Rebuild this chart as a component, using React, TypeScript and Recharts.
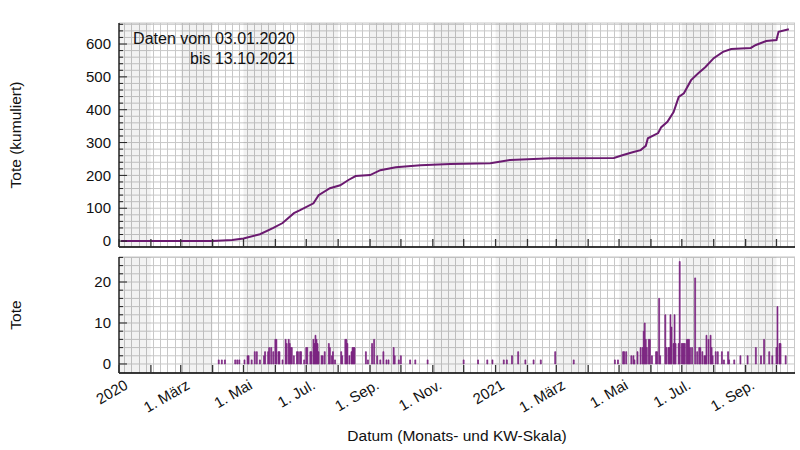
import {
  Bar,
  CartesianGrid,
  ComposedChart,
  Line,
  ReferenceArea,
  XAxis,
  YAxis,
} from "recharts";

const START = Date.UTC(2020, 0, 1);
const toDay = (s: string) => Math.round((Date.parse(s) - START) / 86400000);

// Monatsanfänge (Ticks) und Beschriftung
const monthStarts = [
  "2020-01-01", "2020-02-01", "2020-03-01", "2020-04-01", "2020-05-01", "2020-06-01",
  "2020-07-01", "2020-08-01", "2020-09-01", "2020-10-01", "2020-11-01", "2020-12-01",
  "2021-01-01", "2021-02-01", "2021-03-01", "2021-04-01", "2021-05-01", "2021-06-01",
  "2021-07-01", "2021-08-01", "2021-09-01", "2021-10-01", "2021-11-01",
];
const monthLabels = [
  "2020", "", "1. März", "", "1. Mai", "", "1. Jul.", "", "1. Sep.", "", "1. Nov.", "",
  "2021", "", "1. März", "", "1. Mai", "", "1. Jul.", "", "1. Sep.", "", "",
];

// kumulierte Tote
const cumDates = [
  "2020-01-03", "2020-04-01", "2020-04-20", "2020-05-01", "2020-05-17", "2020-05-30",
  "2020-06-08", "2020-06-19", "2020-06-25", "2020-07-08", "2020-07-13", "2020-07-24",
  "2020-08-03", "2020-08-11", "2020-08-18", "2020-09-01", "2020-09-11", "2020-09-26",
  "2020-10-20", "2020-11-18", "2020-12-27", "2021-01-15", "2021-02-24", "2021-04-26",
  "2021-05-05", "2021-05-15", "2021-05-22", "2021-05-27", "2021-05-29", "2021-06-08",
  "2021-06-11", "2021-06-17", "2021-06-23", "2021-06-28", "2021-07-03", "2021-07-10",
  "2021-07-17", "2021-07-24", "2021-08-01", "2021-08-10", "2021-08-18", "2021-09-06",
  "2021-09-11", "2021-09-21", "2021-10-01", "2021-10-03", "2021-10-13",
];
const cumValues = [
  0, 0, 3, 8, 21, 40,
  55, 85, 94, 115, 140, 161,
  170, 186, 198, 201, 216, 225,
  231, 235, 237, 247, 252, 253,
  262, 271, 277, 290, 313, 329,
  347, 363, 393, 439, 450, 490,
  511, 530, 557, 576, 585, 588,
  597, 609, 612, 637, 645,
];

// tägliche Tote 2020 (Tage ohne Meldung weggelassen)
const daily2020: [string, number][] = [
  ["2020-04-07", 1], ["2020-04-10", 1], ["2020-04-13", 1], ["2020-04-23", 1],
  ["2020-04-25", 1], ["2020-04-27", 1], ["2020-05-02", 1], ["2020-05-05", 2],
  ["2020-05-06", 2], ["2020-05-09", 1], ["2020-05-12", 3], ["2020-05-14", 3],
  ["2020-05-17", 1], ["2020-05-21", 2], ["2020-05-22", 3], ["2020-05-25", 3],
  ["2020-05-26", 4], ["2020-05-28", 4], ["2020-05-30", 3], ["2020-06-01", 6],
  ["2020-06-02", 6], ["2020-06-04", 3], ["2020-06-05", 3], ["2020-06-08", 1],
  ["2020-06-11", 6], ["2020-06-12", 5], ["2020-06-14", 6], ["2020-06-15", 5],
  ["2020-06-16", 4], ["2020-06-17", 4], ["2020-06-19", 2], ["2020-06-22", 3],
  ["2020-06-23", 3], ["2020-06-25", 3], ["2020-06-26", 3], ["2020-06-29", 1],
  ["2020-07-01", 4], ["2020-07-02", 4], ["2020-07-05", 3], ["2020-07-06", 3],
  ["2020-07-08", 6], ["2020-07-09", 5], ["2020-07-10", 7], ["2020-07-11", 6],
  ["2020-07-12", 5], ["2020-07-13", 3], ["2020-07-16", 2], ["2020-07-17", 2],
  ["2020-07-19", 3], ["2020-07-23", 5], ["2020-07-24", 4], ["2020-07-26", 2],
  ["2020-07-27", 3], ["2020-07-29", 1], ["2020-08-04", 3], ["2020-08-05", 2],
  ["2020-08-08", 6], ["2020-08-09", 6], ["2020-08-10", 5], ["2020-08-12", 2],
  ["2020-08-14", 3], ["2020-08-15", 4], ["2020-08-16", 4], ["2020-08-17", 4],
  ["2020-08-28", 3], ["2020-08-30", 1], ["2020-09-03", 5], ["2020-09-05", 6],
  ["2020-09-08", 2], ["2020-09-11", 1], ["2020-09-14", 3], ["2020-09-17", 1],
  ["2020-09-19", 1], ["2020-09-24", 4], ["2020-09-25", 2], ["2020-09-29", 1],
  ["2020-10-01", 2], ["2020-10-10", 1], ["2020-10-15", 1], ["2020-10-27", 1],
  ["2020-12-01", 1], ["2020-12-15", 1], ["2020-12-24", 1], ["2020-12-29", 1],
];

// tägliche Tote 2021
const daily2021: [string, number][] = [
  ["2021-01-09", 1], ["2021-01-12", 1], ["2021-01-17", 2], ["2021-01-23", 3],
  ["2021-01-30", 1], ["2021-02-07", 1], ["2021-02-14", 1], ["2021-02-28", 3],
  ["2021-03-18", 1], ["2021-04-27", 1], ["2021-04-30", 1], ["2021-05-05", 3],
  ["2021-05-06", 3], ["2021-05-08", 3], ["2021-05-13", 2], ["2021-05-15", 2],
  ["2021-05-16", 1], ["2021-05-19", 3], ["2021-05-22", 4], ["2021-05-24", 4],
  ["2021-05-25", 8], ["2021-05-26", 10], ["2021-05-27", 6], ["2021-05-28", 4],
  ["2021-05-30", 6], ["2021-05-31", 6], ["2021-06-02", 2], ["2021-06-06", 3],
  ["2021-06-07", 3], ["2021-06-09", 16], ["2021-06-10", 2], ["2021-06-15", 12],
  ["2021-06-16", 4], ["2021-06-18", 4], ["2021-06-19", 4], ["2021-06-20", 12],
  ["2021-06-21", 9], ["2021-06-23", 5], ["2021-06-24", 12], ["2021-06-25", 5],
  ["2021-06-28", 5], ["2021-06-29", 25], ["2021-07-01", 5], ["2021-07-02", 5],
  ["2021-07-03", 5], ["2021-07-04", 5], ["2021-07-06", 6], ["2021-07-07", 6],
  ["2021-07-08", 6], ["2021-07-09", 4], ["2021-07-11", 4], ["2021-07-14", 21],
  ["2021-07-16", 3], ["2021-07-18", 4], ["2021-07-19", 4], ["2021-07-21", 3],
  ["2021-07-23", 2], ["2021-07-24", 2], ["2021-07-25", 7], ["2021-07-27", 6],
  ["2021-07-29", 7], ["2021-07-30", 4], ["2021-07-31", 2], ["2021-08-03", 3],
  ["2021-08-05", 3], ["2021-08-09", 3], ["2021-08-11", 1], ["2021-08-15", 3],
  ["2021-08-16", 1], ["2021-08-21", 1], ["2021-08-27", 2], ["2021-09-03", 2],
  ["2021-09-11", 4], ["2021-09-16", 2], ["2021-09-19", 6], ["2021-09-24", 3],
  ["2021-09-27", 2], ["2021-10-01", 4], ["2021-10-02", 14], ["2021-10-04", 5],
  ["2021-10-05", 5], ["2021-10-10", 2],
];

const topTicks = [0, 20, 40, 60, 80, 100, 120, 140, 160, 180, 200, 220, 240, 260, 280, 300,
  320, 340, 360, 380, 400, 420, 440, 460, 480, 500, 520, 540, 560, 580, 600, 620, 640, 660];
const bottomTicks = [0, 2, 4, 6, 8, 10, 12, 14, 16, 18, 20, 22, 24, 26];

const X_DOMAIN: [number, number] = [0, 657];
const PURPLE = "#6b1a70";
const BAR = "#7a2380";
const GRID = "#c8c8c8";
const FONT = '"Liberation Sans", Arial, sans-serif';

const monthDays = monthStarts.map(toDay);
const labelByDay = new Map(monthDays.map((d, i) => [d, monthLabels[i]]));
const tickDays = monthDays.filter((d) => d <= X_DOMAIN[1]);

// jeder zweite Monat grau hinterlegt
const shadeBands: [number, number][] = [];
for (let i = 0; i < monthDays.length - 1; i += 2) {
  shadeBands.push([monthDays[i], Math.min(monthDays[i + 1], X_DOMAIN[1])]);
}
// KW-Linien (Montage)
const weekDays: number[] = [];
for (let d = 5; d <= X_DOMAIN[1]; d += 7) weekDays.push(d);

const cumData = cumDates.map((s, i) => ({ day: toDay(s), cum: cumValues[i] }));
const dailyData = [...daily2020, ...daily2021].map(([s, v]) => ({ day: toDay(s), deaths: v }));

// KW-Gitter über die x-Skala der Achse
const weekLines = ({ xAxis, offset }: any) => {
  const scale = xAxis?.scale;
  if (typeof scale === "function") return weekDays.map((d) => Math.round(scale(d)) + 0.5);
  const w = offset.width;
  return weekDays.map((d) => Math.round(offset.left + ((d - X_DOMAIN[0]) / (X_DOMAIN[1] - X_DOMAIN[0])) * w) + 0.5);
};

function yTick(step: number) {
  return (p: any) => {
    const v = p.payload.value;
    const major = v % step === 0;
    const sx = p.x + 8;
    return (
      <g key={`yt-${v}`}>
        <line x1={sx} x2={sx + (major ? 8 : 4)} y1={p.y} y2={p.y} stroke="#222" strokeWidth={1} />
        {major && (
          <text x={p.x} y={p.y} dy="0.35em" textAnchor="end" fontSize={15} fill="#111" fontFamily={FONT}>
            {v}
          </text>
        )}
      </g>
    );
  };
}

function xTick(withLabel: boolean) {
  return (p: any) => {
    const v = p.payload.value;
    const label = labelByDay.get(v) ?? "";
    const tx = p.x + 10;
    const ty = p.y + 15;
    return (
      <g key={`xt-${v}`}>
        <line x1={p.x} x2={p.x} y1={p.y} y2={p.y - 8} stroke="#333" strokeWidth={1.3} />
        {withLabel && label && (
          <text x={tx} y={ty} textAnchor="end" fontSize={15} fill="#111" fontFamily={FONT}
            transform={`rotate(-30 ${tx} ${ty})`}>
            {label}
          </text>
        )}
      </g>
    );
  };
}

export default function App() {
  // halbtransparent, damit das Gitter durchscheint
  const bands = shadeBands.map(([a, b]) => (
    <ReferenceArea key={`s${a}`} x1={a} x2={b} fill="#000" fillOpacity={0.05} stroke="none" strokeWidth={0} ifOverflow="hidden" />
  ));

  return (
    <div style={{ position: "absolute", left: 0, top: 0, width: 800, height: 450, background: "#fff", fontFamily: FONT }}>
      <div style={{ position: "absolute", left: 0, top: 0 }}>
        <ComposedChart width={800} height={250} data={cumData} margin={{ top: 23, right: 5, bottom: 2, left: 59 }}>
          <CartesianGrid stroke={GRID} strokeWidth={1} strokeDasharray="" verticalCoordinatesGenerator={weekLines} />
          {bands}
          <XAxis dataKey="day" type="number" domain={X_DOMAIN} allowDataOverflow ticks={tickDays}
            interval={0} height={1} tickSize={0} tickMargin={0} tick={xTick(false)}
            axisLine={{ stroke: "#000", strokeWidth: 1.3 }} tickLine={false} />
          <YAxis type="number" domain={[-18, 664]} allowDataOverflow ticks={topTicks} interval={0}
            width={60} tickSize={0} tickMargin={8} tick={yTick(100)}
            axisLine={{ stroke: "#000", strokeWidth: 1.3 }} tickLine={false} />
          <Line type="linear" dataKey="cum" stroke={PURPLE} strokeWidth={2} dot={false} isAnimationActive={false} />
        </ComposedChart>
      </div>
      <div style={{ position: "absolute", left: 0, top: 250 }}>
        <ComposedChart width={800} height={200} data={dailyData} margin={{ top: 7, right: 5, bottom: 0, left: 59 }}>
          <CartesianGrid stroke={GRID} strokeWidth={1} strokeDasharray="" verticalCoordinatesGenerator={weekLines} />
          {bands}
          <XAxis dataKey="day" type="number" domain={X_DOMAIN} allowDataOverflow ticks={tickDays}
            interval={0} height={77} tickSize={0} tickMargin={0} tick={xTick(true)}
            axisLine={{ stroke: "#000", strokeWidth: 1.3 }} tickLine={false} />
          <YAxis type="number" domain={[-2.2, 26.1]} allowDataOverflow ticks={bottomTicks} interval={0}
            width={60} tickSize={0} tickMargin={8} tick={yTick(10)}
            axisLine={{ stroke: "#000", strokeWidth: 1.3 }} tickLine={false} />
          <Bar dataKey="deaths" fill={BAR} stroke={BAR} strokeWidth={0.9} strokeOpacity={0.8}
            barSize={2} isAnimationActive={false} />
        </ComposedChart>
      </div>
      <svg width={800} height={450} style={{ position: "absolute", left: 0, top: 0, pointerEvents: "none" }}>
        <g fontFamily={FONT} fill="#111">
          <text x={295} y={44} fontSize={16} textAnchor="end">Daten vom 03.01.2020</text>
          <text x={295} y={64} fontSize={16} textAnchor="end">bis 13.10.2021</text>
          <text x={21} y={135} fontSize={15.5} textAnchor="middle" transform="rotate(-90 21 135)">Tote (kumuliert)</text>
          <text x={21} y={315} fontSize={15.5} textAnchor="middle" transform="rotate(-90 21 315)">Tote</text>
          <text x={457} y={441} fontSize={15.5} textAnchor="middle">Datum (Monats- und KW-Skala)</text>
        </g>
      </svg>
    </div>
  );
}
